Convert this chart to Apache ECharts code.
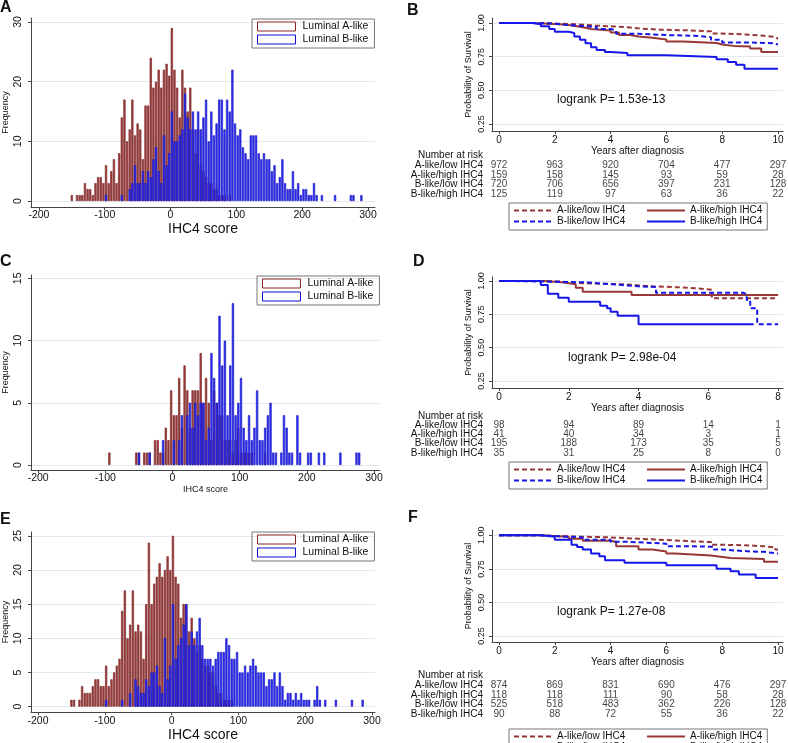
<!DOCTYPE html>
<html>
<head>
<meta charset="utf-8">
<script src="https://cdn.jsdelivr.net/npm/echarts@6/dist/echarts.min.js"></script>
<style>
  html, body { margin: 0; padding: 0; background: #fff; }
  #chart { width: 788px; height: 743px; }
</style>
</head>
<body>
<div id="chart"></div>
<script>
// ---- histogram data: bins 4 units wide, first bin centred on -150 ----
const histBinStart = -150;
const histBinWidth = 4;
const histXTicks = [-200, -100, 0, 100, 200, 300];

const aRedCounts = [1,0,1,1,1,3,2,2,1,3, 4,4,3,6,3,5,7,3,8,14, 17,10,12,17,11,13,12,7,16,16,
  24,19,20,22,19,22,23,21,29,22, 19,14,22,19,15,19,12,8,12,6, 5,4,3,3,2,2,1,1,1,0, 1];
const aBlueCounts = [0,0,0,0,0,0,0,0,0,0,0,0,0,1,0,0,0,0,0,1,0,0,
  2,3,6,3,3,5,3,5,4,7,9,5,3,11,6,8,
  15,10,10,11,12,18,14,12,15,12,15,12,14,17,10,15,11,13,17,17,12,17,15,22,
  13,11,12,9,8,7,11,11,11,8,7,8,7,7,5,6,3,4,7,3,2,2,5,2,3,1,2,2,1,1,3,1,0,1,
  0,0,0,0,1,0,0,0,0,0,1,1,0,0,1];

const cRedCounts = [0,0,0,0,0,0,0,0,0,0,0,0,0,0, 1, 0,0,0,0,0,0,0,0,0,
  1,1,0,1,1,1,0,2,2,1, 1,3,2,6,4,4,7,3,8,6, 3,6,6,6,9,5,7,5,2,6, 5,4,4,2,2,2,1,2,3,1, 1,1,1,1,0,0,0,0,1];
const cBlueCounts = [0,0,0,0,0,0,0,0,0,0,0,0,0,0,0,0,0,0,0,0,0,0,0,0,0,
  1,0,0,0,1,0,0,0,0,2,0,0,0,2,0,
  2,4,0,4,5,3,5,4,5,5,2,3,9,7,5,12,8,10,4,8,13,4,5,7,3,2,4,2,3,6,2,2,3,4,5,1,1,
  0, 1,4,3,1,1,0,4,1, 0,0, 1,1, 0,0, 1, 0, 1, 0,0,0,0,0, 1, 0,0,0,0,0, 1,1];

const eRedCounts = [1,1,0,1,3,2,2,2,3,4, 4,3,3,6,3,4,5,6,7,14, 17,10,12,17,11,12,11,7,15,24,
  15,18,19,21,19,20,22,20,25,19, 18,13,15,15,11,13,10,8,9,7, 6,6,5,5,3,2,2,1,1,1, 1];
const eBlueCounts = [0,0,0,0,0,0,0,0,0,0,0,0,0,1,0,0,0,0,0,1,0,0,2,0,
  4,3,2,2,4,3,5,5,6,3, 2,10,4,6,15,7,9,10,12,15, 9,11,9,11,13,9,7,7,7,6, 7,8,8,8,10,9,7,7,8,5,
  5,6,5,6,7,6,5,5,5,3, 4,4,5,3,5,3,1,2,2,1, 2,1,2,1,1,1,0,1,3,1, 0,1,
  0,0,0,1,0,0,0,0,0,1,0,0,0,1];

// ---- Kaplan-Meier step curves [years, survival] ----
const bALow  = [[0,1],[1.5,0.995],[2.2,0.99],[2.8,0.98],[3.5,0.975],[4,0.97],[4.5,0.96],[5,0.95],[5.8,0.945],[6.8,0.938],[7.6,0.922],[8,0.915],[8.8,0.905],[9.5,0.896],[9.9,0.882],[10,0.882]];
const bAHigh = [[0,1],[1.2,0.995],[1.8,0.99],[2.2,0.985],[2.5,0.975],[2.8,0.965],[3.1,0.955],[3.3,0.945],[4,0.93],[4.3,0.91],[4.7,0.9],[5,0.89],[5.5,0.877],[6,0.862],[6.6,0.852],[7.8,0.84],[8,0.83],[8.4,0.825],[9,0.81],[9.4,0.785],[10,0.785]];
const bBLow  = [[0,1],[1.2,0.995],[2,0.985],[2.5,0.978],[3,0.97],[3.5,0.955],[4,0.945],[4.2,0.92],[5,0.91],[6,0.905],[7,0.895],[7.6,0.876],[8,0.856],[9,0.85],[9.8,0.84],[10,0.84]];
const bBHigh = [[0,1],[1.2,0.99],[1.5,0.975],[1.8,0.955],[2,0.935],[2.5,0.925],[2.7,0.9],[2.9,0.875],[3.1,0.85],[3.3,0.82],[3.5,0.8],[3.8,0.785],[4,0.777],[4.6,0.76],[6,0.748],[7.8,0.73],[8.2,0.71],[8.5,0.69],[8.8,0.66],[10,0.66]];

const dALow  = [[0,1],[1.2,0.995],[1.8,0.985],[2.2,0.975],[3.6,0.96],[4.4,0.95],[5.4,0.935],[6.1,0.87],[8,0.87]];
const dAHigh = [[0,1],[1.3,0.99],[1.8,0.975],[2.2,0.95],[2.4,0.92],[3.8,0.895],[8,0.895]];
const dBLow  = [[0,1],[0.3,0.995],[1.5,0.99],[2.5,0.98],[3,0.97],[3.5,0.96],[4,0.955],[4.5,0.912],[7,0.9],[7.1,0.857],[7.2,0.795],[7.4,0.675],[8,0.675]];
const dBHigh = [[0,1],[1.2,0.97],[1.4,0.905],[1.7,0.875],[2,0.845],[2.9,0.815],[3.1,0.795],[3.2,0.77],[3.4,0.74],[4,0.675],[7.3,0.675]];

const fALow  = [[0,1],[1.5,0.995],[2,0.99],[3,0.985],[4,0.975],[5,0.965],[6,0.955],[7,0.95],[7.6,0.93],[8,0.925],[9,0.918],[9.5,0.91],[9.9,0.894],[10,0.894]];
const fAHigh = [[0,1],[1.5,0.995],[2,0.99],[2.5,0.975],[3,0.96],[4,0.95],[4.2,0.918],[5,0.894],[5.5,0.88],[6,0.864],[6.3,0.85],[7.6,0.845],[7.8,0.832],[8.3,0.824],[9.5,0.804],[10,0.804]];
const fBLow  = [[0,1],[1.5,0.995],[2,0.985],[3,0.968],[4,0.953],[4.5,0.948],[5,0.938],[6,0.918],[7,0.915],[7.7,0.894],[8,0.88],[9,0.877],[9.5,0.864],[10,0.862]];
const fBHigh = [[0,1],[1.5,0.99],[2,0.968],[2.6,0.93],[2.8,0.913],[3,0.894],[3.3,0.864],[3.6,0.844],[3.8,0.814],[4.5,0.795],[6,0.777],[7.8,0.752],[8.3,0.733],[8.6,0.708],[9.2,0.683],[10,0.683]];

// ---- number at risk ----
const kmNames = ['A-like/low IHC4', 'A-like/high IHC4', 'B-like/low IHC4', 'B-like/high IHC4'];
const bRiskTimes = [0, 2, 4, 6, 8, 10];
const bRiskALow  = [972, 963, 920, 704, 477, 297];
const bRiskAHigh = [159, 158, 145, 93, 59, 28];
const bRiskBLow  = [720, 706, 656, 397, 231, 128];
const bRiskBHigh = [125, 119, 97, 63, 36, 22];
const dRiskTimes = [0, 2, 4, 6, 8];
const dRiskALow  = [98, 94, 89, 14, 1];
const dRiskAHigh = [41, 40, 34, 3, 1];
const dRiskBLow  = [195, 188, 173, 35, 5];
const dRiskBHigh = [35, 31, 25, 8, 0];
const fRiskTimes = [0, 2, 4, 6, 8, 10];
const fRiskALow  = [874, 869, 831, 690, 476, 297];
const fRiskAHigh = [118, 118, 111, 90, 58, 28];
const fRiskBLow  = [525, 518, 483, 362, 226, 128];
const fRiskBHigh = [90, 88, 72, 55, 36, 22];

const FONT = '"Liberation Sans", Arial, sans-serif';
const TEXT = '#111';
const AXIS = '#444';
const GRIDLINE = '#e3eaef';
const RED = '#973838';
const BLUE = '#1616e8';

// grids: 0 A, 1 C, 2 E (histograms); 3 B, 4 D, 5 F (KM); 6,7,8 risk tables
const grids = [
  { left: 31, top: 18, width: 344, height: 189 },
  { left: 26, top: 275, width: 354, height: 195 },
  { left: 31, top: 532, width: 344, height: 187 },
  { left: 492, top: 18, width: 291, height: 113 },
  { left: 492, top: 277, width: 291, height: 111 },
  { left: 492, top: 530, width: 291, height: 112 },
  { left: 492, top: 161, width: 291, height: 37.6 },
  { left: 492, top: 420.3, width: 291, height: 37.3 },
  { left: 492, top: 681, width: 291, height: 37.6 }
];

function histX(gi, min, max, nameGap, nameSize, margin) {
  return {
    gridIndex: gi, type: 'value', min, max,
    name: 'IHC4 score', nameLocation: 'middle', nameGap,
    nameTextStyle: { fontSize: nameSize, color: TEXT, fontFamily: FONT },
    axisLine: { onZero: false, lineStyle: { color: AXIS } },
    axisTick: { customValues: histXTicks, length: 3, lineStyle: { color: AXIS } },
    axisLabel: { customValues: histXTicks, fontSize: 10.5, color: TEXT, fontFamily: FONT, margin },
    splitLine: { show: false }
  };
}
function histY(gi, min, max, ticks) {
  return {
    gridIndex: gi, type: 'value', min, max,
    name: 'Frequency', nameLocation: 'middle', nameGap: 21, nameRotate: 90,
    nameTextStyle: { fontSize: 9, color: TEXT, fontFamily: FONT },
    axisLine: { show: true, onZero: false, lineStyle: { color: AXIS } },
    axisTick: { show: true, customValues: ticks, length: 3, lineStyle: { color: AXIS } },
    axisLabel: { customValues: ticks, rotate: 90, fontSize: 10.5, color: TEXT, fontFamily: FONT, margin: 7 },
    splitLine: { show: true, lineStyle: { color: GRIDLINE } }
  };
}
function kmX(gi, min, max, ticks) {
  return {
    gridIndex: gi, type: 'value', min, max,
    name: 'Years after diagnosis', nameLocation: 'middle', nameGap: 12,
    nameTextStyle: { fontSize: 10, color: TEXT, fontFamily: FONT },
    axisLine: { onZero: false, lineStyle: { color: AXIS } },
    axisTick: { customValues: ticks, length: 3, lineStyle: { color: AXIS } },
    axisLabel: { customValues: ticks, fontSize: 10, color: TEXT, fontFamily: FONT, margin: 4 },
    splitLine: { show: false }
  };
}
const kmYTicks = [0.25, 0.5, 0.75, 1];
function kmY(gi, min, max) {
  return {
    gridIndex: gi, type: 'value', min, max,
    name: 'Probability of Survival', nameLocation: 'middle', nameGap: 19, nameRotate: 90,
    nameTextStyle: { fontSize: 9, color: TEXT, fontFamily: FONT },
    axisLine: { show: true, onZero: false, lineStyle: { color: AXIS } },
    axisTick: { show: true, customValues: kmYTicks, length: 3, lineStyle: { color: AXIS } },
    axisLabel: { customValues: kmYTicks, rotate: 90, fontSize: 9, color: TEXT, fontFamily: FONT, margin: 6,
      formatter: (v) => v.toFixed(2) },
    splitLine: { show: true, lineStyle: { color: GRIDLINE } }
  };
}
function riskX(gi, min, max) {
  return { gridIndex: gi, type: 'value', min, max, show: false };
}
function riskY(gi) {
  return {
    gridIndex: gi, type: 'category', inverse: true, data: kmNames,
    axisLine: { show: false }, axisTick: { show: false }, splitLine: { show: false },
    axisLabel: { interval: 0, fontSize: 10, color: TEXT, fontFamily: FONT, margin: 9 }
  };
}

const xAxes = [
  histX(0, -212, 310.7, 15, 14, 3),
  histX(1, -210.7, 309, 10, 9, 3),
  histX(2, -210.5, 304.5, 12, 14, 4),
  kmX(3, -0.25, 10.18, [0, 2, 4, 6, 8, 10]),
  kmX(4, -0.2, 8.14, [0, 2, 4, 6, 8]),
  kmX(5, -0.25, 10.18, [0, 2, 4, 6, 8, 10]),
  riskX(6, -0.25, 10.18),
  riskX(7, -0.2, 8.14),
  riskX(8, -0.25, 10.18)
];
const yAxes = [
  histY(0, -1, 30.67, [0, 10, 20, 30]),
  histY(1, -0.4, 15.27, [0, 5, 10, 15]),
  histY(2, -0.8, 25.56, [0, 5, 10, 15, 20, 25]),
  kmY(3, 0.198, 1.037),
  kmY(4, 0.197, 1.03),
  kmY(5, 0.205, 1.04),
  riskY(6), riskY(7), riskY(8)
];

function histSeries(name, counts, gi, fill, edge) {
  return {
    type: 'bar', name, xAxisIndex: gi, yAxisIndex: gi,
    data: counts.map((c, i) => [histBinStart + i * histBinWidth, c]).filter((d) => d[1] > 0),
    barWidth: 2.2, barGap: '-100%',
    itemStyle: { color: fill, borderColor: edge, borderWidth: 0.6 },
    silent: true
  };
}
function kmSeries(name, data, gi, color, dashed) {
  return {
    type: 'line', name, xAxisIndex: gi, yAxisIndex: gi, data, step: 'end',
    symbol: 'none', silent: true,
    lineStyle: { color, width: 2, type: dashed ? [5, 3] : 'solid' },
    itemStyle: { color }
  };
}
function riskSeries(gi, times, rows) {
  const data = [];
  rows.forEach((row, r) => row.forEach((v, j) => data.push([times[j], r, v])));
  return {
    type: 'scatter', xAxisIndex: gi, yAxisIndex: gi, data, symbolSize: 1, silent: true,
    itemStyle: { color: 'rgba(0,0,0,0)' },
    label: { show: true, position: 'inside', formatter: (p) => String(p.value[2]),
      fontSize: 10, color: TEXT, fontFamily: FONT }
  };
}

const series = [
  histSeries('Luminal A-like', aRedCounts, 0, '#9c4444', '#781b1b'),
  histSeries('Luminal B-like', aBlueCounts, 0, '#3535ee', '#0c0cc8'),
  histSeries('Luminal A-like', cRedCounts, 1, '#9c4444', '#781b1b'),
  histSeries('Luminal B-like', cBlueCounts, 1, '#3535ee', '#0c0cc8'),
  histSeries('Luminal A-like', eRedCounts, 2, '#9c4444', '#781b1b'),
  histSeries('Luminal B-like', eBlueCounts, 2, '#3535ee', '#0c0cc8'),

  kmSeries(kmNames[0], bALow, 3, RED, true),
  kmSeries(kmNames[1], bAHigh, 3, RED, false),
  kmSeries(kmNames[2], bBLow, 3, BLUE, true),
  kmSeries(kmNames[3], bBHigh, 3, BLUE, false),
  kmSeries(kmNames[0], dALow, 4, RED, true),
  kmSeries(kmNames[1], dAHigh, 4, RED, false),
  kmSeries(kmNames[2], dBLow, 4, BLUE, true),
  kmSeries(kmNames[3], dBHigh, 4, BLUE, false),
  kmSeries(kmNames[0], fALow, 5, RED, true),
  kmSeries(kmNames[1], fAHigh, 5, RED, false),
  kmSeries(kmNames[2], fBLow, 5, BLUE, true),
  kmSeries(kmNames[3], fBHigh, 5, BLUE, false),

  riskSeries(6, bRiskTimes, [bRiskALow, bRiskAHigh, bRiskBLow, bRiskBHigh]),
  riskSeries(7, dRiskTimes, [dRiskALow, dRiskAHigh, dRiskBLow, dRiskBHigh]),
  riskSeries(8, fRiskTimes, [fRiskALow, fRiskAHigh, fRiskBLow, fRiskBHigh])
];

function histLegend(left, top) {
  return {
    orient: 'vertical', left, top, itemWidth: 38, itemHeight: 9, itemGap: 2,
    padding: [2, 6, 3, 5], borderColor: '#777', borderWidth: 1, selectedMode: false,
    textStyle: { fontSize: 10.5, lineHeight: 11, color: TEXT, fontFamily: FONT, padding: [0, 0, 0, 2] },
    data: [
      { name: 'Luminal A-like', icon: 'rect', itemStyle: { color: '#fff', borderColor: '#8a2424', borderWidth: 1 } },
      { name: 'Luminal B-like', icon: 'rect', itemStyle: { color: '#fff', borderColor: '#0c0cd0', borderWidth: 1 } }
    ]
  };
}
function kmLegend(top) {
  return {
    left: 509, top, width: 252, itemWidth: 38, itemHeight: 10, itemGap: 0,
    padding: [2, 5, 3, 4], borderColor: '#777', borderWidth: 1, selectedMode: false,
    itemStyle: { opacity: 0 },
    textStyle: { fontSize: 10, lineHeight: 11, color: TEXT, fontFamily: FONT,
      rich: { w: { width: 89, fontSize: 10, fontFamily: FONT }, n: { fontSize: 10, fontFamily: FONT } } },
    formatter: (name) => (name.includes('low') ? '{w|' + name + '}' : '{n|' + name + '}'),
    data: kmNames.slice()
  };
}

function label(text, x, y, opts) {
  return {
    type: 'text', x, y, silent: true,
    style: Object.assign({ text, fill: TEXT, font: '10px ' + FONT, textAlign: 'left', textVerticalAlign: 'middle' }, opts || {})
  };
}

const option = {
  animation: false,
  backgroundColor: '#fff',
  grid: grids,
  xAxis: xAxes,
  yAxis: yAxes,
  series,
  legend: [histLegend(252, 19), histLegend(257, 276), histLegend(252, 532), kmLegend(203), kmLegend(462), kmLegend(729)],
  graphic: { elements: [
    label('A', 0, 8, { font: 'bold 16px ' + FONT }),
    label('B', 407, 11, { font: 'bold 16px ' + FONT }),
    label('C', 0, 262, { font: 'bold 16px ' + FONT }),
    label('D', 413, 262, { font: 'bold 16px ' + FONT }),
    label('E', 0, 520, { font: 'bold 16px ' + FONT }),
    label('F', 408, 518, { font: 'bold 16px ' + FONT }),
    label('logrank P= 1.53e-13', 557, 100, { font: '12px ' + FONT }),
    label('logrank P= 2.98e-04', 568, 358, { font: '12px ' + FONT }),
    label('logrank P= 1.27e-08', 557, 612, { font: '12px ' + FONT }),
    label('Number at risk', 483, 155.7, { textAlign: 'right' }),
    label('Number at risk', 483, 416, { textAlign: 'right' }),
    label('Number at risk', 483, 675.7, { textAlign: 'right' })
  ] }
};

const chart = echarts.init(document.getElementById('chart'), null, { renderer: 'canvas' });
chart.setOption(option);
</script>
</body>
</html>
